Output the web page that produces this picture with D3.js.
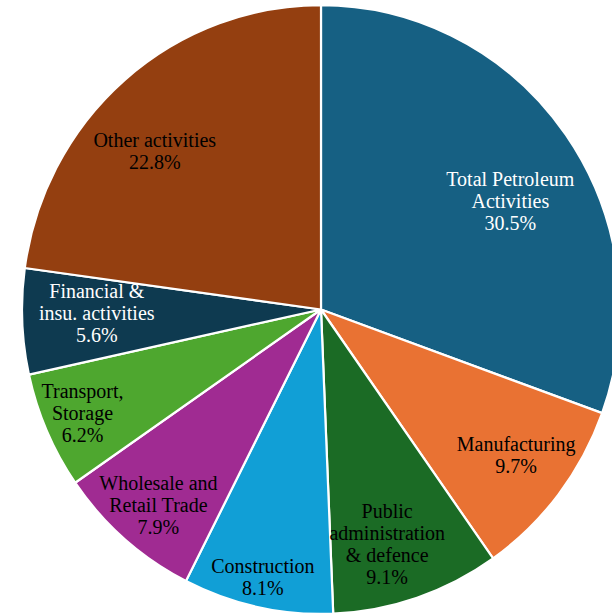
<!DOCTYPE html>
<html>
<head>
<meta charset="utf-8">
<script src="https://cdn.jsdelivr.net/npm/d3@7"></script>
<style>
  html, body { margin: 0; padding: 0; background: #fff; overflow: hidden; }
</style>
</head>
<body>
<div id="chart"></div>
<script>
// Sector shares (%)
const labels = [
  ['Total Petroleum', 'Activities'],
  ['Manufacturing'],
  ['Public', 'administration', '& defence'],
  ['Construction'],
  ['Wholesale and', 'Retail Trade'],
  ['Transport,', 'Storage'],
  ['Financial &', 'insu. activities'],
  ['Other activities']
];
const values = [30.5, 9.7, 9.1, 8.1, 7.9, 6.2, 5.6, 22.8];
const colors = ['#166083', '#e97233', '#1b6b25', '#119fd6', '#a02b92', '#4ea72f', '#0e3a50', '#943f10'];
const textColors = ['#fff', '#000', '#000', '#000', '#000', '#000', '#fff', '#000'];
// label placement: share of the radius, and nudge (degrees) off the slice middle
const labelRadius = [0.73, 0.815, 0.816, 0.915, 0.85, 0.87, 0.75, 0.768];
const labelNudge = [5.2, -0.6, 3.0, 0, -1.3, 0, 1.3, -5.3];

const width = 612, height = 615;
const cx = 321, cy = 309.5;
const radius = 299;
const yStretch = 1.018;

const svg = d3.select('#chart')
  .append('svg')
  .attr('width', width)
  .attr('height', height);

const data = values.map((v, i) => ({ value: v, label: labels[i], i: i }));

const pie = d3.pie()
  .value(d => d.value)
  .sort(null);

const arcs = pie(data);

const arc = d3.arc()
  .innerRadius(0)
  .outerRadius(radius);

const g = svg.append('g')
  .attr('transform', `translate(${cx},${cy}) scale(1,${yStretch})`);

g.selectAll('path')
  .data(arcs)
  .enter()
  .append('path')
  .attr('d', arc)
  .attr('fill', d => colors[d.data.i])
  .attr('stroke', '#fff')
  .attr('stroke-width', 2.2)
  .attr('stroke-linejoin', 'round');

// labels
const lineHeight = 22;
const lg = svg.append('g')
  .attr('transform', `translate(${cx},${cy})`);

arcs.forEach(d => {
  const i = d.data.i;
  const r = radius * labelRadius[i];
  const a = (d.startAngle + d.endAngle) / 2 + labelNudge[i] * Math.PI / 180;
  const x = Math.sin(a) * r;
  const y = -Math.cos(a) * r;
  const lines = d.data.label.concat([d.data.value.toFixed(1) + '%']);
  const top = y - (lines.length - 1) * lineHeight / 2;
  const t = lg.append('text')
    .attr('text-anchor', 'middle')
    .attr('dominant-baseline', 'central')
    .attr('font-family', '"Liberation Serif", "Times New Roman", serif')
    .attr('font-size', 20)
    .attr('fill', textColors[i]);
  lines.forEach((s, k) => {
    t.append('tspan')
      .attr('x', x)
      .attr('y', top + k * lineHeight)
      .text(s);
  });
});
</script>
</body>
</html>
